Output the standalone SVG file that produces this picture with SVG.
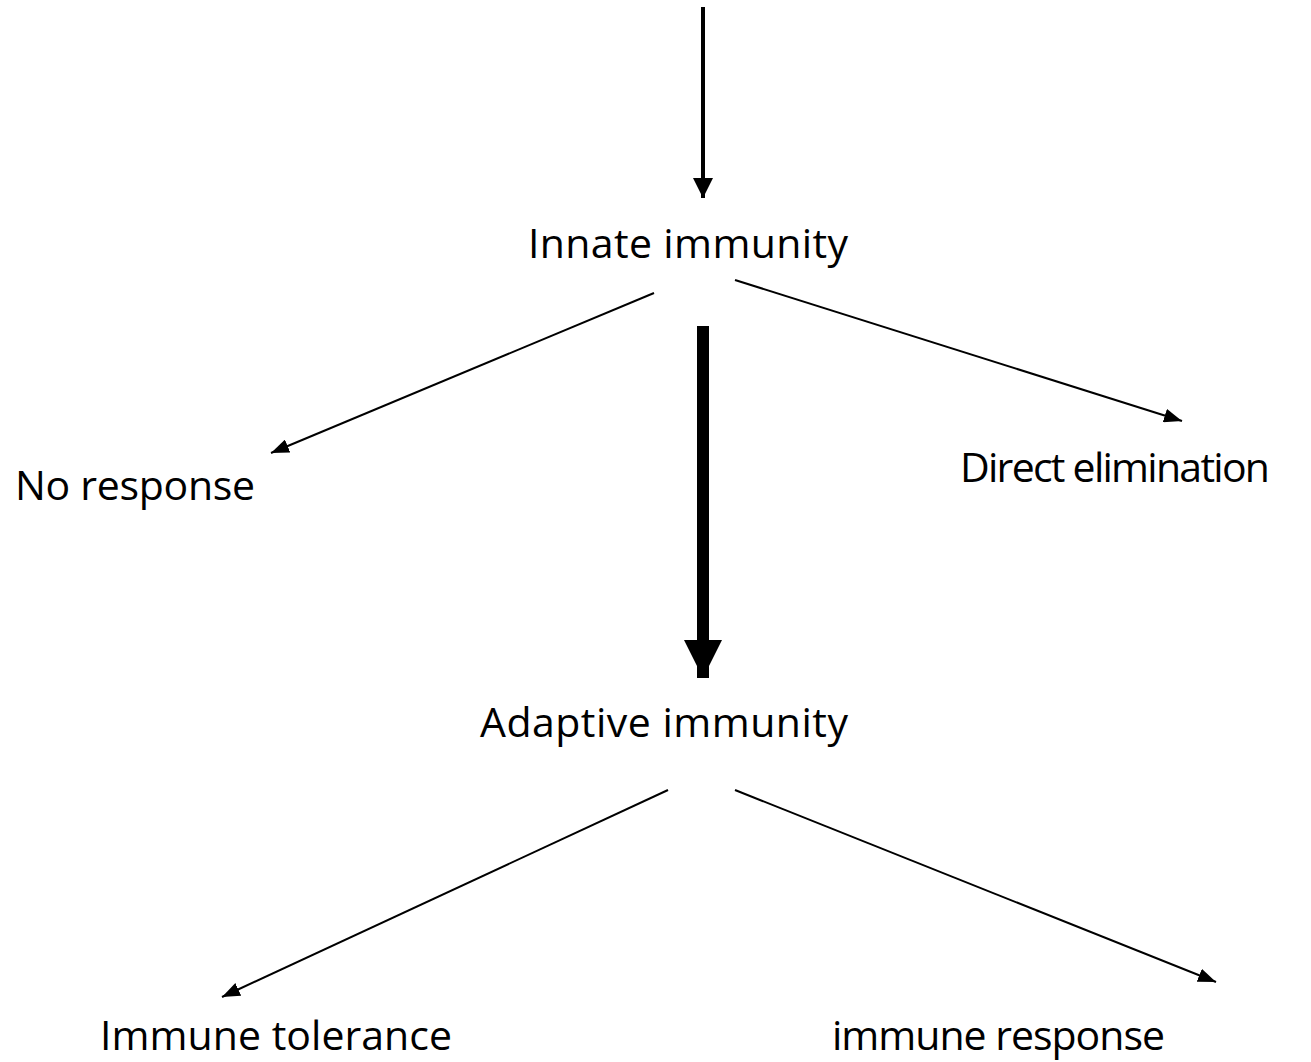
<svg xmlns="http://www.w3.org/2000/svg" width="1311" height="1062" viewBox="0 0 1311 1062">
<style>
.lbl{font-family:"Open Sans","Liberation Sans",sans-serif;font-size:41px;fill:#000}
.thin{stroke:#000;stroke-width:2;fill:none}
</style>
<defs>
<marker id="ah" markerUnits="userSpaceOnUse" markerWidth="18" markerHeight="14" refX="18" refY="7" orient="auto"><path d="M0,0 L18,7 L0,14 z" fill="#000"/></marker>
<marker id="ahm" markerUnits="userSpaceOnUse" markerWidth="20" markerHeight="20" refX="20" refY="10" orient="auto"><path d="M0,0 L20,10 L0,20 z" fill="#000"/></marker>
<marker id="ahb" markerUnits="userSpaceOnUse" markerWidth="38" markerHeight="38" refX="38" refY="19" orient="auto"><path d="M0,0 L38,19 L0,38 z" fill="#000"/></marker>
</defs>
<rect width="1311" height="1062" fill="#fff"/>
<g id="connectors">
<line x1="703" y1="7" x2="703" y2="198" stroke="#000" stroke-width="4" marker-end="url(#ahm)"/>
<line x1="703" y1="326" x2="703" y2="678" stroke="#000" stroke-width="12" marker-end="url(#ahb)"/>
<line class="thin" x1="654" y1="293" x2="271" y2="453" marker-end="url(#ah)"/>
<line class="thin" x1="735" y1="280" x2="1182" y2="421" marker-end="url(#ah)"/>
<line class="thin" x1="668" y1="790" x2="222" y2="997" marker-end="url(#ah)"/>
<line class="thin" x1="735" y1="790" x2="1216" y2="982" marker-end="url(#ah)"/>
</g>
<g id="innate"><text class="lbl" x="528" y="258" textLength="320">Innate immunity</text></g>
<g id="noresponse"><text class="lbl" x="15" y="500" textLength="240">No response</text></g>
<g id="direct"><text class="lbl" x="960" y="482" textLength="310">Direct elimination</text></g>
<g id="adaptive"><text class="lbl" x="480" y="737" textLength="368">Adaptive immunity</text></g>
<g id="tolerance"><text class="lbl" x="100" y="1050" textLength="352">Immune tolerance</text></g>
<g id="response"><text class="lbl" x="832" y="1050" textLength="333">immune response</text></g>
</svg>
